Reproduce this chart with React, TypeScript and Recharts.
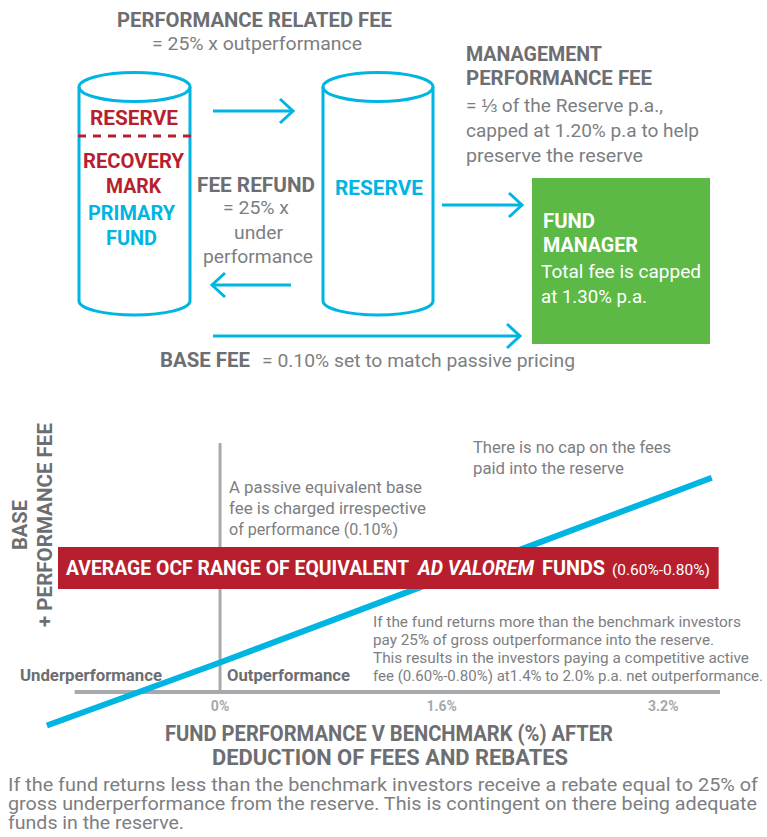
import React from 'react';
import { LineChart, Line, XAxis, YAxis, ReferenceArea, ReferenceLine } from 'recharts';

// fund performance v benchmark (%) and the resulting base + performance fee (%)
const perfValues = [-1.25, 0, 3.55];
const feeValues = [-0.05, 0.25, 1.13];
const tickValues = [0, 1.6, 3.2];
const tickLabels = ['0%', '1.6%', '3.2%'];
const ocfRange = [0.6, 0.8];
const bandSpan = [-1.17, 3.6];
const axisLevel = 0.11;
const axisSpan = [-1.05, 3.61];
const axisTop = 1.295;

const chartData = perfValues.map((x, i) => ({ x, fee: feeValues[i] }));

const CYAN = '#00b5e2';
const RED = '#b71f2e';
const GREEN = '#5cb946';
const DARK = '#6d6e71';
const BODY = '#7d7e81';
const LIGHT = '#a7a9ac';
const FONT = 'Roboto, sans-serif';

type TProps = {
  x: number; y: number; w: number; size: number; bold?: boolean; italic?: boolean;
  fill?: string; anchor?: 'start' | 'middle' | 'end'; children: React.ReactNode; transform?: string;
};

function T({ x, y, w, size, bold, italic, fill = BODY, anchor = 'start', children, transform }: TProps) {
  return (
    <text
      x={x} y={y} fontSize={size} fontFamily={FONT}
      fontWeight={bold ? 700 : 400} fontStyle={italic ? 'italic' : 'normal'}
      fill={fill} textAnchor={anchor} textLength={w} lengthAdjust="spacingAndGlyphs"
      transform={transform}
    >
      {children}
    </text>
  );
}

function Cylinder({ left, right }: { left: number; right: number }) {
  const cx = (left + right) / 2;
  const rx = (right - left) / 2;
  return (
    <g fill="none" stroke={CYAN} strokeWidth={3}>
      <ellipse cx={cx} cy={87} rx={rx} ry={14.5} />
      <path d={`M${left} 87 V301 A${rx} 14 0 0 0 ${right} 301 V87`} />
    </g>
  );
}

function Arrow({ x1, x2, y, dir }: { x1: number; x2: number; y: number; dir: 'left' | 'right' }) {
  const tip = dir === 'right' ? x2 : x1;
  const back = dir === 'right' ? tip - 13 : tip + 13;
  return (
    <g fill="none" stroke={CYAN} strokeWidth={3}>
      <line x1={x1} y1={y} x2={x2} y2={y} />
      <polyline points={`${back},${y - 12} ${tip},${y} ${back},${y + 12}`} />
    </g>
  );
}

const PercentTick = (props: any) => {
  const { x, y, index } = props;
  return (
    <text x={x} y={y - 33} textAnchor="middle" fontFamily={FONT} fontWeight={700} fontSize={14} fill={LIGHT}>
      {tickLabels[index]}
    </text>
  );
};

export default function App() {
  return (
    <div style={{ position: 'absolute', left: 0, top: 0, width: 767, height: 837, background: '#fff', overflow: 'hidden' }}>
      <div style={{ position: 'absolute', left: 0, top: 380 }}>
        <LineChart width={767} height={400} data={chartData} margin={{ top: 41, right: 34.5, bottom: 14, left: 40 }}>
          <XAxis
            type="number" dataKey="x" domain={[-1.3, 3.7]} ticks={tickValues}
            axisLine={false} tickLine={false} height={30} tick={<PercentTick />} interval={0}
          />
          <YAxis type="number" domain={[-0.1, 1.4]} hide />
          <ReferenceLine
            segment={[{ x: axisSpan[0], y: axisLevel }, { x: axisSpan[1], y: axisLevel }]}
            stroke={LIGHT} strokeWidth={4}
          />
          <ReferenceLine
            segment={[{ x: 0, y: axisLevel }, { x: 0, y: axisTop }]}
            stroke={LIGHT} strokeWidth={3}
          />
          <Line
            type="linear" dataKey="fee" stroke={CYAN} strokeWidth={6} dot={false}
            activeDot={false} isAnimationActive={false}
          />
          <ReferenceArea
            x1={bandSpan[0]} x2={bandSpan[1]} y1={ocfRange[0]} y2={ocfRange[1]}
            fill={RED} fillOpacity={1} stroke="none" zIndex={600}
          />
        </LineChart>
      </div>

      <svg width={767} height={837} style={{ position: 'absolute', left: 0, top: 0, pointerEvents: 'none' }}>
        {/* flow diagram */}
        <T x={117} y={27} w={275} size={21} bold fill={DARK}>PERFORMANCE RELATED FEE</T>
        <T x={152} y={50} w={210} size={18}>= 25% x outperformance</T>

        <Cylinder left={79} right={190} />
        <Cylinder left={323} right={433} />
        <line x1={78} y1={136} x2={192} y2={136} stroke={RED} strokeWidth={3} strokeDasharray="8 7" />

        <T x={90} y={125} w={88} size={21} bold fill={RED}>RESERVE</T>
        <T x={83} y={168} w={101} size={21} bold fill={RED}>RECOVERY</T>
        <T x={106} y={193} w={55} size={21} bold fill={RED}>MARK</T>
        <T x={88} y={220} w={87} size={21} bold fill={CYAN}>PRIMARY</T>
        <T x={106} y={245} w={51} size={21} bold fill={CYAN}>FUND</T>

        <T x={335} y={195} w={88} size={21} bold fill={CYAN}>RESERVE</T>

        <Arrow x1={213} x2={293} y={111} dir="right" />
        <Arrow x1={212} x2={291} y={285} dir="left" />
        <Arrow x1={442} x2={522} y={205} dir="right" />
        <Arrow x1={213} x2={520} y={336} dir="right" />

        <T x={197} y={192} w={118} size={21} bold fill={DARK}>FEE REFUND</T>
        <T x={223} y={214} w={66} size={18}>= 25% x</T>
        <T x={234} y={239} w={49} size={18}>under</T>
        <T x={203} y={263} w={110} size={18}>performance</T>

        <T x={466} y={61} w={136} size={21} bold fill={DARK}>MANAGEMENT</T>
        <T x={466} y={85} w={186} size={21} bold fill={DARK}>PERFORMANCE FEE</T>
        <T x={466} y={112} w={197} size={18}>= ⅓ of the Reserve p.a.,</T>
        <T x={466} y={137} w={233} size={18}>capped at 1.20% p.a to help</T>
        <T x={466} y={162} w={177} size={18}>preserve the reserve</T>

        <rect x={532} y={178} width={178} height={166} fill={GREEN} />
        <T x={543} y={228} w={52} size={21} bold fill="#fff">FUND</T>
        <T x={543} y={252} w={95} size={21} bold fill="#fff">MANAGER</T>
        <T x={541} y={278} w={160} size={18} fill="#fff">Total fee is capped</T>
        <T x={541} y={303} w={106} size={18} fill="#fff">at 1.30% p.a.</T>

        <T x={160} y={367} w={90} size={21} bold fill={DARK}>BASE FEE</T>
        <T x={262} y={367} w={313} size={18}>= 0.10% set to match passive pricing</T>

        {/* chart annotations */}
        <T x={27} y={525} w={50} size={21} bold fill={DARK} anchor="middle" transform="rotate(-90 27 525)">BASE</T>
        <T x={52} y={525} w={204} size={21} bold fill={DARK} anchor="middle" transform="rotate(-90 52 525)">+ PERFORMANCE FEE</T>

        <T x={473} y={453} w={198} size={16}>There is no cap on the fees</T>
        <T x={473} y={474} w={151} size={16}>paid into the reserve</T>

        <T x={229} y={493} w={193} size={16}>A passive equivalent base</T>
        <T x={229} y={514} w={197} size={16}>fee is charged irrespective</T>
        <T x={229} y={535} w={169} size={16}>of performance (0.10%)</T>

        <T x={66} y={575} w={343} size={21} bold fill="#fff">AVERAGE OCF RANGE OF EQUIVALENT</T>
        <T x={418} y={575} w={116} size={21} bold italic fill="#fff">AD VALOREM</T>
        <T x={542} y={575} w={63} size={21} bold fill="#fff">FUNDS</T>
        <T x={612} y={575} w={98} size={15} fill="#fff">(0.60%-0.80%)</T>

        <T x={373} y={627} w={368} size={15}>If the fund returns more than the benchmark investors</T>
        <T x={373} y={645} w={341} size={15}>pay 25% of gross outperformance into the reserve.</T>
        <T x={373} y={663} w={376} size={15}>This results in the investors paying a competitive active</T>
        <T x={373} y={681} w={390} size={15}>fee (0.60%-0.80%) at1.4% to 2.0% p.a. net outperformance.</T>

        <T x={20} y={681} w={142} size={16} bold fill={DARK}>Underperformance</T>
        <T x={227} y={681} w={123} size={16} bold fill={DARK}>Outperformance</T>

        <T x={165} y={741} w={448} size={22} bold fill={DARK}>FUND PERFORMANCE V BENCHMARK (%) AFTER</T>
        <T x={212} y={765} w={356} size={22} bold fill={DARK}>DEDUCTION OF FEES AND REBATES</T>

        <T x={8} y={791} w={750} size={18}>If the fund returns less than the benchmark investors receive a rebate equal to 25% of</T>
        <T x={8} y={810} w={749} size={18}>gross underperformance from the reserve. This is contingent on there being adequate</T>
        <T x={8} y={829} w={176} size={18}>funds in the reserve.</T>
      </svg>
    </div>
  );
}
